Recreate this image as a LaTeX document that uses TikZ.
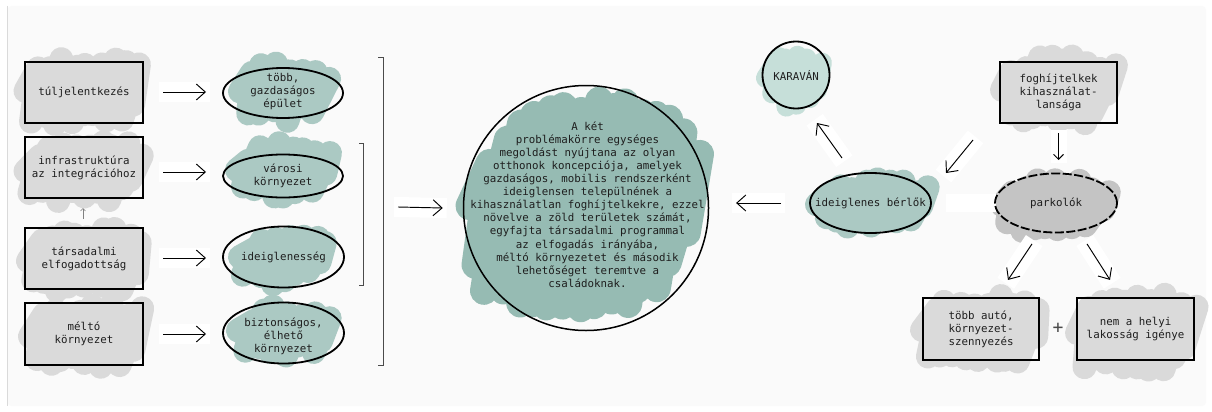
\documentclass[tikz,border=0pt]{standalone}
\usepackage{fontspec}
\setmonofont{DejaVu Sans Mono}
\usetikzlibrary{arrows.meta,shapes.geometric}
\definecolor{ink}{HTML}{1E1E1E}
\definecolor{bgc}{HTML}{FAFAFA}
\definecolor{edgec}{HTML}{DADADA}
\definecolor{scgray}{HTML}{DADADA}
\definecolor{scdark}{HTML}{C4C4C4}
\definecolor{scteal}{HTML}{ABC9C3}
\definecolor{scmain}{HTML}{96BBB3}
\definecolor{sclight}{HTML}{C6DFD9}
\definecolor{brk}{HTML}{4A4A4A}
% #1 colour, #2 cx, #3 cy, #4 rx, #5 ry, #6 n, #7 slant, #8 line width, #9 exponent
\newcommand\scribble[9]{%
  \draw[#1, line width=#8pt, line cap=round, line join=round]
    ({#2-#4},{#3})
    \foreach \i in {1,...,#6}{
      -- ({#2+#4*(-1+(2*\i-1)/#6)+#7/2+4*rand},{#3-#5*sf(-1+(2*\i-1)/#6,#9)+6*rand})
      -- ({#2+#4*(-1+2*\i/#6)-#7/2+4*rand},{#3+#5*sf(-1+2*\i/#6,#9)+6*rand})
    };
}
\begin{document}
\begin{tikzpicture}[x=1pt,y=-1pt,
  declare function={sf(\u,\p)=max(0.3,(max(0.0001,1-abs(\u)^\p))^(1/\p));},
  txt/.style={font=\ttfamily\fontsize{10.8}{13.1}\selectfont, text=ink, align=center, inner sep=0pt},
  box/.style={draw=black, line width=2pt, minimum width=118pt, minimum height=61pt, inner sep=0pt, txt},
  ell/.style={ellipse, draw=black, line width=1.8pt, inner sep=0pt},
  arr/.style={-{Straight Barb[length=9pt,width=16pt]}, line width=0.95pt, black,
    preaction={draw=white, line width=20pt, -, shorten <=-4pt, shorten >=-4pt}},
  sarr/.style={-{Straight Barb[length=5pt,width=10pt]}, line width=0.9pt, black,
    preaction={draw=white, line width=16pt, -, shorten <=-3pt, shorten >=-3pt}},
  bracket/.style={draw=brk, line width=0.9pt},
]
\pgfmathsetseed{42}
\useasboundingbox (0,0) rectangle (1212,412);
\fill[white] (0,0) rectangle (1212,412);
\fill[bgc, rounded corners=4pt] (7.5,6) rectangle (1206,406);
\draw[edgec, line width=0.8pt] (7.5,6) -- (7.5,406);

% scribbles
\scribble{scgray}{82.5}{91}{57}{27}{9}{12}{24}{5}
\scribble{scgray}{82.5}{171}{57}{24}{9}{12}{24}{5}
\scribble{scgray}{84}{261}{56}{27}{9}{12}{24}{5}
\scribble{scgray}{85}{336.5}{55}{26.5}{9}{12}{24}{5}
\scribble{scteal}{284}{91.5}{44}{24.5}{7}{12}{24}{2.5}
\scribble{scteal}{283.5}{170}{46.5}{23}{7}{12}{24}{2.5}
\scribble{scteal}{284}{257}{44}{23}{7}{12}{24}{2.5}
\scribble{scteal}{284}{330.5}{46}{20.5}{7}{12}{24}{2.5}
\scribble{scmain}{583.5}{206}{114}{101}{15}{24}{28}{2.5}
\scribble{sclight}{794}{78}{28}{23}{5}{8}{20}{2.5}
\scribble{scgray}{1057.5}{90}{55.5}{28}{9}{12}{24}{4}
\scribble{scteal}{873.5}{204.5}{56.5}{19.5}{9}{12}{24}{3}
\scribble{scdark}{1054}{205}{52}{21}{8}{12}{24}{3}
\scribble{scgray}{981}{330}{59}{30}{9}{12}{24}{4}
\scribble{scgray}{1135}{333}{58}{33}{9}{12}{24}{4}
\fill[white] (946,194) rectangle (996,212);

% left boxes
\node[box] (b1) at (84,92.5) {túljelentkezés};
\node[box] (b2) at (84,167.5) {infrastruktúra\\az integrációhoz};
\node[box] (b3) at (84,258.5) {társadalmi\\elfogadottság};
\node[box, minimum height=62pt] (b4) at (84,334) {méltó\\környezet};

% left ellipses
\node[ell, minimum width=120pt, minimum height=50pt] (e1) at (283,93) {};
\node[txt] (e1t) at (283,91.5) {több,\\gazdaságos\\épület};
\node[ell, minimum width=120pt, minimum height=43pt] (e2) at (283,176) {};
\node[txt] (e2t) at (283,176) {városi\\környezet};
\node[ell, minimum width=121pt, minimum height=61pt] (e3) at (283.5,257) {};
\node[txt] (e3t) at (283.5,257) {ideiglenesség};
\node[ell, minimum width=121pt, minimum height=61pt] (e4) at (283.5,333) {};
\node[txt] (e4t) at (283.5,336) {biztonságos,\\élhető\\környezet};

% brackets
\draw[bracket] (378,57) -- (383,57) -- (383,365) -- (378,365);
\draw[bracket] (359,143) -- (363,143) -- (363,285) -- (359,285);
\coordinate (brkout) at (383,207);

% centre circle
\node[ell, line width=1.5pt, minimum width=245pt, minimum height=245pt] (c) at (586,208) {};
\node[txt] (ct) at (587.5,204.5) {A két\\problémakörre egységes\\megoldást nyújtana az olyan\\otthonok koncepciója, amelyek\\gazdaságos, mobilis rendszerként\\ideiglensen települnének a\\kihasználatlan foghíjtelkekre, ezzel\\növelve a zöld területek számát,\\egyfajta társadalmi programmal\\az elfogadás irányába,\\méltó környezetet és második\\lehetőséget teremtve a\\családoknak.};

% right side
\node[ell, minimum width=67pt, minimum height=67pt] (k) at (796,75) {};
\node[txt] (kt) at (796,75) {KARAVÁN};
\node[box, minimum width=117pt] (fog) at (1058.5,92.5) {foghíjtelkek\\kihasználat-\\lansága};
\node[ell, minimum width=121pt, minimum height=60pt] (bl) at (870.5,203) {};
\node[txt] (blt) at (870.5,203) {ideiglenes bérlők};
\node[ell, dashed, dash pattern=on 9pt off 2.5pt, minimum width=122pt, minimum height=59pt] (pk) at (1056,203) {};
\node[txt] (pkt) at (1056,203) {parkolók};
\node[box, minimum width=116pt, minimum height=62pt] (bb1) at (981,329) {több autó,\\környezet-\\szennyezés};
\node[box, minimum width=117pt, minimum height=62pt] (bb2) at (1135.5,329) {nem a helyi\\lakosság igénye};
\node[txt, font=\ttfamily\fontsize{18}{18}\selectfont, text=brk] (plus) at (1058,328) {+};

% arrows
\draw[arr] (b1.east) ++(19,-0.5) -- ++(43,0);
\draw[arr] (b2.east) ++(19,4.5) -- ++(43,0);
\draw[arr] (b3.east) ++(19,-0.5) -- ++(43,0);
\draw[arr] (b4.east) ++(19,0) -- ++(43,0);
\draw[-{Straight Barb[length=2.5pt,width=5pt]}, line width=0.6pt, gray] (b3.north) ++(-1,-8) -- ([xshift=-1pt,yshift=-9pt]b2.south);
\draw[arr] (brkout) ++(15,0) -- ([xshift=-20pt]c.west);
\draw[arr] ([xshift=-28pt]bl.west) -- ++(-45,0);
\draw[arr] (bl.center) ++(-28.5,-45) -- ++(-25,-35);
\draw[arr] (fog.center) ++(-85.5,47.5) -- ++(-27,33);
\draw[sarr] (fog.south) ++(0,9) -- ++(0,27);
\draw[arr] (pk.south) ++(-24,10.5) -- ++(-24,36);
\draw[arr] (pk.south) ++(31,10.5) -- ++(23,36);
\end{tikzpicture}
\end{document}
